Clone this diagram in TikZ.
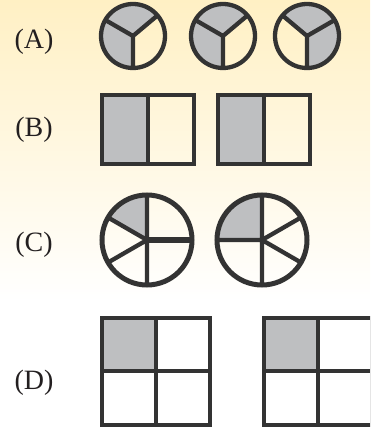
\documentclass[tikz,border=0pt]{standalone}
\usepackage{fontspec}
\setmainfont{Liberation Serif}
\definecolor{Cream}{HTML}{FFF0C4}
\definecolor{Ink}{HTML}{333333}
\definecolor{Type}{HTML}{231F20}
\definecolor{Shade}{HTML}{BEBFC1}

\begin{document}
\begin{tikzpicture}[x=1pt,y=1pt,every node/.style={font=\fontsize{28}{30}\selectfont,text=Type},edge/.style={draw=Ink,line width=4.3pt},part/.style={fill=Shade}]
\useasboundingbox (0,0) rectangle (370,431);
\fill[white] (0,0) rectangle (370,431);\shade[top color=Cream,bottom color=white] (0,130) rectangle (370,431);
\clip (0,0) rectangle (370,431);
% labels
\node (labA) at (34,389) {(A)};\node (labB) at (34,301) {(B)};\node (labC) at (34,186) {(C)};\node (labD) at (34,48) {(D)};

% (A) thirds
\fill[part] (133,395) -- ++(40:32) arc (40:270:32) -- cycle;\fill[part] (223,395) -- ++(40:32) arc (40:270:32) -- cycle;\fill[part] (307,395) -- ++(-90:32) arc (-90:140:32) -- cycle;
\foreach \cx/\a/\b in {133/40/150,223/40/150,307/30/140}{\draw[edge] (\cx,395) circle (32);\draw[edge,line join=miter] (\cx,395) -- ++(\a:32) (\cx,395) -- ++(\b:32) (\cx,395) -- ++(270:32);}

% (B) halves
\foreach \lx in {102,218}{\fill[part] (\lx,267) rectangle (\lx+46,336);\draw[edge] (\lx,267) rectangle (\lx+92,336) (\lx+46,267) -- (\lx+46,336);}

% (C) fifths
\fill[part] (147,191) -- ++(90:45) arc (90:150:45) -- cycle;\fill[part] (262,191) -- ++(90:45) arc (90:180:45) -- cycle;
\draw[edge,line width=5pt] (147,191) circle (45) (262,191) circle (45);
\draw[edge] (147,191) -- ++(90:45) (147,191) -- ++(150:45) (147,191) -- ++(210:45) (147,191) -- ++(270:45);\draw[edge,line width=6pt] (147,191) -- ++(0:45);
\draw[edge] (262,191) -- ++(90:45) (262,191) -- ++(180:45) (262,191) -- ++(270:45) (262,191) -- ++(30:45) (262,191) -- ++(-30:45);

% (D) quarters
\foreach \lx in {102,264}{\fill[part] (\lx,60) rectangle (\lx+54,113);\draw[edge] (\lx,6) rectangle (\lx+108,113) (\lx+54,6) -- (\lx+54,113) (\lx,60) -- (\lx+108,60);}
\end{tikzpicture}
\end{document}
